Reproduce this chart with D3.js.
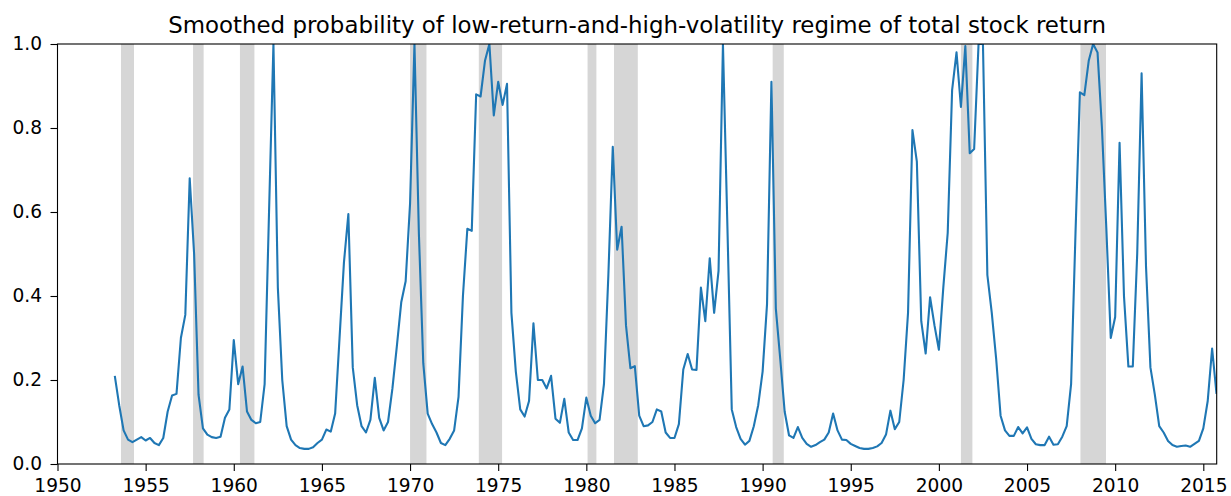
<!DOCTYPE html>
<html>
<head>
<meta charset="utf-8">
<script src="https://cdn.jsdelivr.net/npm/d3@7/dist/d3.min.js"></script>
<style>
  html, body { margin: 0; padding: 0; background: #fff; }
  svg text { font-family: "DejaVu Sans", sans-serif; fill: #000; }
</style>
</head>
<body>
<svg id="chart" width="1231" height="496"></svg>
<script>
// ---- data ----
const titleText = "Smoothed probability of low-return-and-high-volatility regime of total stock return";
const firstYear = 1953;      // first observation: 1953 Q2
const firstQuarter = 2;
const xDomain = [1950, 2015.76];
const yDomain = [0, 1];
const xTickValues = [1950, 1955, 1960, 1965, 1970, 1975, 1980, 1985, 1990, 1995, 2000, 2005, 2010, 2015];
const yTickValues = [0, 0.2, 0.4, 0.6, 0.8, 1.0];

// NBER recession periods (start, end) in fractional years
const recessionStart = [1953.6, 1957.69, 1960.35, 1970.0, 1973.9, 1980.07, 1981.57, 1990.57, 2001.25, 2008.03];
const recessionEnd   = [1954.34, 1958.29, 1961.17, 1970.93, 1975.22, 1980.57, 1982.92, 1991.2, 2001.9, 2009.48];

// quarterly smoothed probabilities, 1953Q2 .. 2015Q4
const probability = [
  0.21, 0.14, 0.08,
  0.058, 0.052, 0.058, 0.064,
  0.056, 0.062, 0.05, 0.045,
  0.062, 0.125, 0.163, 0.167,
  0.30, 0.355, 0.68, 0.50,
  0.165, 0.085, 0.07, 0.064,
  0.062, 0.065, 0.11, 0.13,
  0.295, 0.19, 0.232, 0.125,
  0.105, 0.097, 0.10, 0.19,
  0.60, 1.0, 0.42, 0.20,
  0.09, 0.058, 0.045, 0.038,
  0.036, 0.036, 0.04, 0.05,
  0.058, 0.082, 0.077, 0.12,
  0.30, 0.48, 0.595, 0.23,
  0.14, 0.09, 0.075, 0.105,
  0.205, 0.11, 0.08, 0.10,
  0.18, 0.28, 0.385, 0.435,
  0.62, 1.0, 0.55, 0.24,
  0.12, 0.095, 0.075, 0.05,
  0.045, 0.06, 0.08, 0.16,
  0.40, 0.56, 0.555, 0.88,
  0.875, 0.96, 1.0, 0.83,
  0.91, 0.855, 0.905, 0.36,
  0.22, 0.13, 0.113, 0.15,
  0.335, 0.20, 0.20, 0.18,
  0.21, 0.108, 0.098, 0.155,
  0.075, 0.057, 0.057, 0.085,
  0.158, 0.115, 0.097, 0.105,
  0.19, 0.45, 0.755, 0.51,
  0.565, 0.33, 0.228, 0.233,
  0.115, 0.09, 0.092, 0.10,
  0.13, 0.125, 0.075, 0.062,
  0.062, 0.095, 0.225, 0.262,
  0.225, 0.224, 0.42, 0.34,
  0.49, 0.36, 0.46, 1.0,
  0.57, 0.13, 0.088, 0.06,
  0.046, 0.055, 0.09, 0.14,
  0.22, 0.38, 0.91, 0.37,
  0.25, 0.125, 0.068, 0.062,
  0.088, 0.062, 0.048, 0.041,
  0.045, 0.052, 0.058, 0.075,
  0.12, 0.08, 0.058, 0.057,
  0.048, 0.043, 0.038, 0.036,
  0.036, 0.038, 0.042, 0.05,
  0.07, 0.127, 0.083, 0.10,
  0.20, 0.36, 0.795, 0.72,
  0.34, 0.263, 0.397, 0.33,
  0.272, 0.42, 0.55, 0.89,
  0.98, 0.85, 0.995, 0.74,
  0.75, 1.0, 1.0, 0.45,
  0.36, 0.25, 0.115, 0.08,
  0.067, 0.067, 0.088, 0.073,
  0.087, 0.06, 0.047, 0.045,
  0.045, 0.065, 0.046, 0.047,
  0.065, 0.09, 0.19, 0.55,
  0.885, 0.878, 0.96, 1.0,
  0.98, 0.80, 0.56, 0.30,
  0.35, 0.765, 0.40, 0.232,
  0.232, 0.50, 0.93, 0.47,
  0.23, 0.165, 0.09, 0.075,
  0.055, 0.045, 0.041, 0.043,
  0.044, 0.041, 0.048, 0.055,
  0.085, 0.15, 0.275, 0.167
];

// ---- layout ----
const W = 1231, H = 496;
const margin = { left: 57.5, right: W - 1216.7, top: 44, bottom: H - 464 };
const iw = W - margin.left - margin.right;
const ih = H - margin.top - margin.bottom;

const svg = d3.select("#chart");
const g = svg.append("g").attr("transform", `translate(${margin.left},${margin.top})`);

const x = d3.scaleLinear().domain(xDomain).range([0, iw]);
const y = d3.scaleLinear().domain(yDomain).range([ih, 0]);

const series = probability.map((v, i) => ({
  t: firstYear + (firstQuarter - 1) / 4 + i / 4,
  v
}));

svg.append("defs").append("clipPath").attr("id", "plotclip")
  .append("rect").attr("x", 0).attr("y", 0).attr("width", iw).attr("height", ih);

// recession bands
const bands = recessionStart.map((s, i) => ({ s, e: recessionEnd[i] }));
g.append("g").attr("clip-path", "url(#plotclip)")
  .selectAll("rect").data(bands).join("rect")
  .attr("x", d => x(d.s))
  .attr("width", d => x(d.e) - x(d.s))
  .attr("y", 0).attr("height", ih)
  .attr("fill", "#d6d6d6");

// line
const line = d3.line().x(d => x(d.t)).y(d => y(d.v));
g.append("g").attr("clip-path", "url(#plotclip)")
  .append("path").datum(series)
  .attr("d", line)
  .attr("fill", "none")
  .attr("stroke", "#1f77b4")
  .attr("stroke-width", 2.1)
  .attr("stroke-linejoin", "round");

// axes
const xAxis = d3.axisBottom(x).tickValues(xTickValues).tickFormat(d3.format("d"))
  .tickSizeInner(7).tickSizeOuter(0).tickPadding(7.5);
const yAxis = d3.axisLeft(y).tickValues(yTickValues).tickFormat(d3.format(".1f"))
  .tickSizeInner(7).tickSizeOuter(0).tickPadding(8.5);

const gx = g.append("g").attr("transform", `translate(0,${ih})`).call(xAxis);
const gy = g.append("g").call(yAxis);
[gx, gy].forEach(a => {
  a.select(".domain").remove();
  a.selectAll(".tick line").attr("stroke", "#000").attr("stroke-width", 1.1);
  a.selectAll(".tick text").attr("font-size", "18.6px").attr("fill", "#262626")
    .style("font-family", "'DejaVu Sans', sans-serif");
});

// frame (spines)
g.append("rect").attr("x", 0).attr("y", 0).attr("width", iw).attr("height", ih)
  .attr("fill", "none").attr("stroke", "#000").attr("stroke-width", 1.1);

// title
svg.append("text")
  .attr("x", margin.left + iw / 2)
  .attr("y", 33.3)
  .attr("text-anchor", "middle")
  .attr("font-size", "22.9px")
  .attr("fill", "#262626")
  .text(titleText);
</script>
</body>
</html>
